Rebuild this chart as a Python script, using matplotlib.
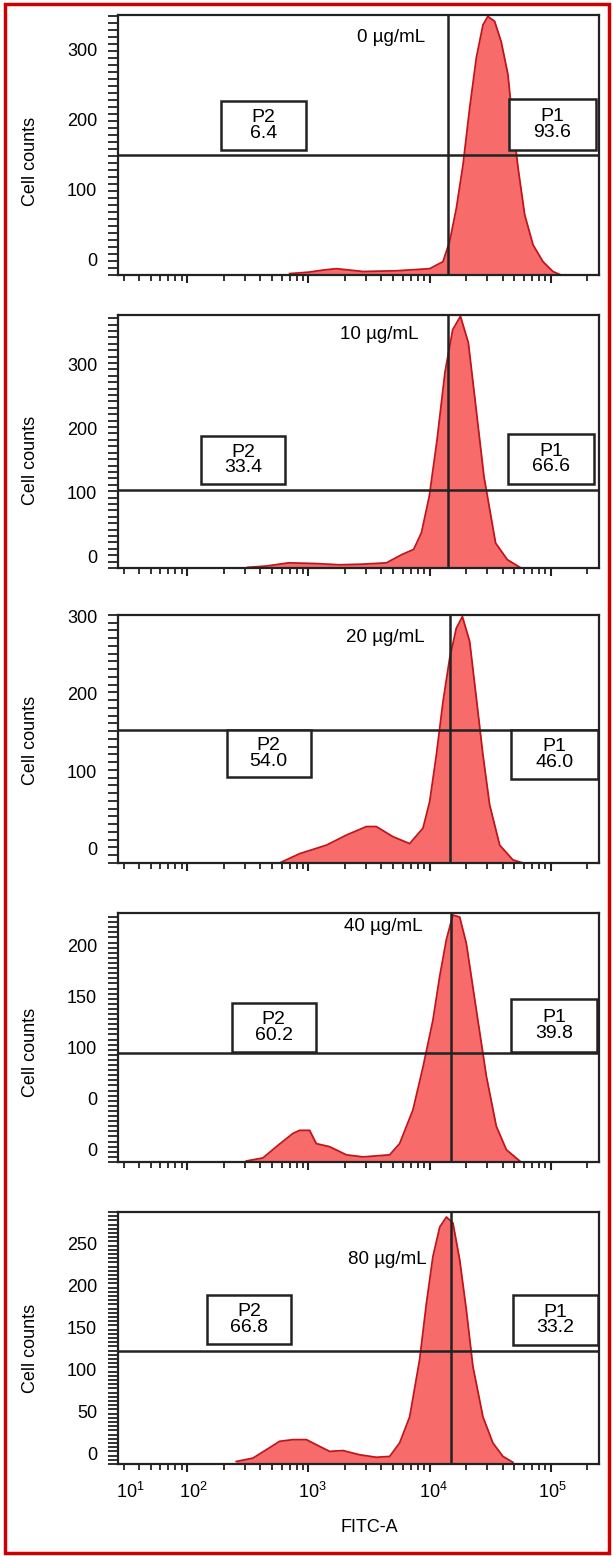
import numpy as np
import matplotlib.pyplot as plt
import matplotlib.transforms as mtransforms
from matplotlib.patches import Rectangle
from matplotlib.ticker import LogLocator, MultipleLocator, NullFormatter, FixedLocator

plt.rcParams['font.family'] = ['Liberation Sans', 'DejaVu Sans']
plt.rcParams['mathtext.fontset'] = 'custom'
plt.rcParams['mathtext.rm'] = 'Liberation Sans'

# ---- data ----
conc_labels = ['0 µg/mL', '10 µg/mL', '20 µg/mL', '40 µg/mL', '80 µg/mL']
p1_values = ['93.6', '66.6', '46.0', '39.8', '33.2']
p2_values = ['6.4', '33.4', '54.0', '60.2', '66.8']
gate_x_log = [4.155, 4.155, 4.168, 4.177, 4.177]   # vertical gate, log10(FITC-A)
gate_y = [171, 122, 171, 107, 134]                  # horizontal gate, counts

# histograms: log10(FITC-A) positions and cell counts
h0_log = [2.845, 3.0, 3.12, 3.23, 3.45, 3.725, 4.0, 4.11, 4.165, 4.22, 4.275, 4.33,
          4.385, 4.44, 4.48, 4.536, 4.59, 4.646, 4.687, 4.73, 4.784, 4.853, 4.935,
          5.017, 5.07]
h0_cnt = [2, 4, 7, 9, 5, 6, 9, 19, 48, 95, 157, 238, 310, 357, 369, 362, 333, 286,
          214, 152, 86, 43, 19, 5, 1]
h1_log = [2.499, 2.65, 2.837, 3.05, 3.256, 3.45, 3.643, 3.771, 3.868, 3.932, 3.997,
          4.061, 4.126, 4.190, 4.254, 4.319, 4.384, 4.448, 4.544, 4.641, 4.754]
h1_cnt = [1, 3, 8, 7, 5, 6, 8, 21, 29, 55, 112, 200, 305, 372, 393, 352, 247, 143,
          39, 13, 0]
h2_log = [2.762, 2.927, 3.148, 3.313, 3.478, 3.56, 3.697, 3.835, 3.945, 4.0, 4.055,
          4.11, 4.165, 4.22, 4.27, 4.33, 4.385, 4.44, 4.495, 4.578, 4.687, 4.77]
h2_cnt = [0, 12, 23, 36, 47, 47, 34, 25, 45, 79, 139, 208, 264, 303, 318, 286, 213,
          139, 75, 23, 4, 0]
h3_log = [2.488, 2.625, 2.735, 2.872, 2.927, 3.01, 3.065, 3.175, 3.313, 3.45, 3.67,
          3.752, 3.862, 3.945, 4.027, 4.083, 4.138, 4.192, 4.248, 4.303, 4.385,
          4.468, 4.55, 4.633, 4.743]
h3_cnt = [1, 4, 15, 28, 31, 31, 18, 15, 7, 5, 7, 18, 51, 93, 139, 182, 218, 242, 240,
          214, 149, 84, 35, 12, 1]
h4_log = [2.405, 2.542, 2.653, 2.762, 2.872, 2.983, 3.092, 3.175, 3.285, 3.422, 3.56,
          3.67, 3.752, 3.835, 3.917, 3.973, 4.027, 4.083, 4.138, 4.192, 4.248, 4.303,
          4.357, 4.44, 4.522, 4.605, 4.687]
h4_cnt = [3, 7, 17, 27, 29, 29, 21, 15, 16, 11, 8, 9, 25, 56, 124, 191, 247, 282, 294,
          287, 243, 183, 116, 56, 25, 9, 2]

hist_logs = [h0_log, h1_log, h2_log, h3_log, h4_log]
hist_cnts = [h0_cnt, h1_cnt, h2_cnt, h3_cnt, h4_cnt]

ytick_vals = [[0, 100, 200, 300], [0, 100, 200, 300], [0, 100, 200, 300],
              [0, 50, 100, 150, 200], [0, 50, 100, 150, 200, 250]]
ytick_labels = [['0', '100', '200', '300'], ['0', '100', '200', '300'],
                ['0', '100', '200', '300'], ['0', '0', '100', '150', '200'],
                ['0', '50', '100', '150', '200', '250']]
y_top = [371, 395, 320, 244, 300]
xtick_label_pos = [1.53, 2.05, 3.03, 4.03, 5.01]
xtick_labels = [r'$10^{1}$', r'$10^{2}$', r'$10^{3}$', r'$10^{4}$', r'$10^{5}$']

# ---- layout (pixels of a 613x1556 image) ----
W, H = 613, 1556
ax_left, ax_right = 118, 599
ax_tops = [15, 315, 615, 913, 1212]
ax_bots = [275, 568, 863, 1162, 1464]
minor_step = [10, 10, 10, 5, 5]
label_shift = [15, 11.5, 14, 12.5, 11]   # y tick labels sit above their ticks
ylabel_y = [0.435, 0.427, 0.496, 0.44, 0.46]
p2_box = [(0.215, 0.481, 0.176, 0.188), (0.173, 0.332, 0.175, 0.190),
          (0.226, 0.347, 0.175, 0.189), (0.236, 0.442, 0.175, 0.197),
          (0.185, 0.476, 0.175, 0.195)]
p1_box = [(0.813, 0.481, 0.180, 0.196), (0.810, 0.332, 0.180, 0.198),
          (0.818, 0.339, 0.180, 0.197), (0.817, 0.442, 0.179, 0.213),
          (0.822, 0.472, 0.176, 0.199)]
conc_pos = [(0.568, 0.915), (0.543, 0.921), (0.555, 0.911), (0.551, 0.944),
            (0.559, 0.810)]

fill_c = '#f86b6b'
edge_c = '#c0161b'
dark = '#222222'

fig = plt.figure(figsize=(W / 100, H / 100), dpi=100)

for i in range(5):
    rect = [ax_left / W, 1 - ax_bots[i] / H, (ax_right - ax_left) / W,
            (ax_bots[i] - ax_tops[i]) / H]
    ax = fig.add_axes(rect)
    x = 10 ** np.array(hist_logs[i])
    y = np.array(hist_cnts[i])
    ax.fill_between(x, y, 0, color=fill_c, lw=0, zorder=1)
    ax.plot(x, y, color=edge_c, lw=1.3, zorder=2)

    ax.set_xscale('log')
    ax.set_xlim(10 ** 1.429, 10 ** 5.397)
    ax.set_ylim(0, y_top[i])

    ax.axvline(10 ** gate_x_log[i], color=dark, lw=1.8, zorder=3)
    ax.axhline(gate_y[i], color=dark, lw=1.8, zorder=3)

    for box, name, val in [(p2_box[i], 'P2', p2_values[i]), (p1_box[i], 'P1', p1_values[i])]:
        bx, by, bw, bh = box
        ax.add_patch(Rectangle((bx, by), bw, bh, transform=ax.transAxes,
                               facecolor='white', edgecolor=dark, lw=1.8, zorder=4))
        ax.text(bx + bw / 2, by + bh / 2, name + '\n' + val, transform=ax.transAxes,
                ha='center', va='center', fontsize=14, linespacing=0.88, zorder=5)

    ax.text(conc_pos[i][0], conc_pos[i][1], conc_labels[i], transform=ax.transAxes,
            ha='center', va='center', fontsize=13.5, zorder=5)

    for s in ax.spines.values():
        s.set_linewidth(1.6)
        s.set_color(dark)

    # y axis
    ax.yaxis.set_major_locator(FixedLocator(ytick_vals[i]))
    ax.set_yticklabels(ytick_labels[i], fontsize=13)
    ax.yaxis.set_minor_locator(MultipleLocator(minor_step[i]))
    ax.tick_params(axis='y', which='both', direction='out', length=7, width=1.3,
                   color=dark, pad=8)
    shift = mtransforms.ScaledTranslation(0, label_shift[i] / 100, fig.dpi_scale_trans)
    for lab in ax.get_yticklabels():
        lab.set_transform(lab.get_transform() + shift)
    ax.set_ylabel('Cell counts', fontsize=13)
    ax.yaxis.set_label_coords(-0.164, ylabel_y[i])

    # x axis
    ax.xaxis.set_major_locator(LogLocator(base=10, numticks=10))
    ax.xaxis.set_minor_locator(LogLocator(base=10, subs=np.arange(2, 10), numticks=20))
    ax.xaxis.set_major_formatter(NullFormatter())
    ax.xaxis.set_minor_formatter(NullFormatter())
    ax.tick_params(axis='x', which='major', direction='out', length=6, width=1.5, color=dark)
    ax.tick_params(axis='x', which='minor', direction='out', length=4.3, width=1.3, color=dark)

    if i == 4:
        trans = ax.get_xaxis_transform()
        for pos, lab in zip(xtick_label_pos, xtick_labels):
            ax.text(10 ** pos, -0.111, lab, transform=trans, ha='center', va='center',
                    fontsize=13)

fig.text(369 / W, 1 - 1527 / H, 'FITC-A', ha='center', va='center', fontsize=13)

# red frame around the whole figure
frame = Rectangle((5 / W, 1 - 1553 / H), 604 / W, 1549 / H, transform=fig.transFigure,
                  fill=False, edgecolor='#cc0000', lw=2.5)
fig.patches.append(frame)

fig.savefig('out.png', dpi=100)
